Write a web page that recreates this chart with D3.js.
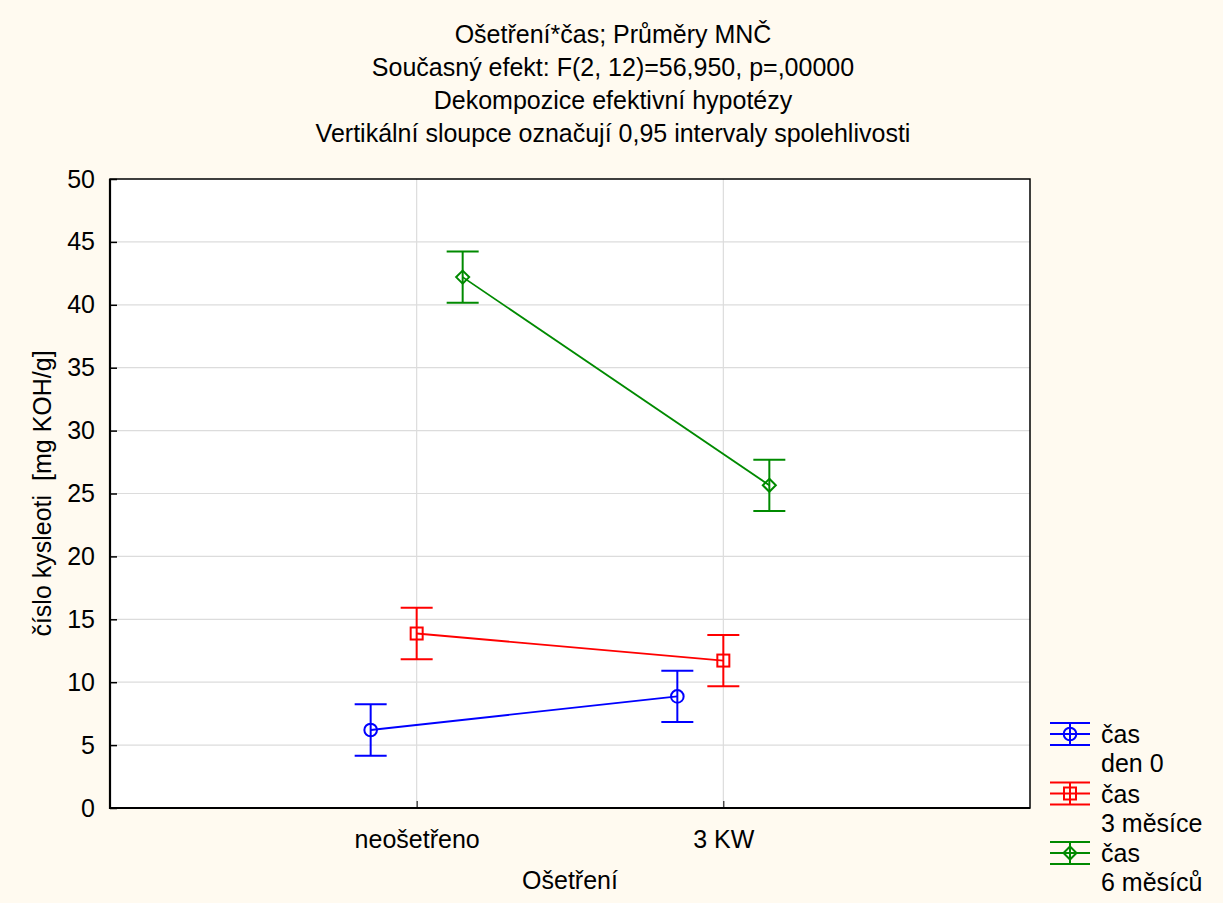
<!DOCTYPE html>
<html>
<head>
<meta charset="utf-8">
<script src="https://cdn.jsdelivr.net/npm/d3@7"></script>
<style>
  body { margin: 0; background: #fffaf0; }
  svg text { font-family: "Liberation Sans", Arial, sans-serif; fill: #000; }
</style>
</head>
<body>
<div id="chart"></div>
<script>
// values
var categories = ["neošetřeno", "3 KW"];
var seriesNames = [["čas", "den 0"], ["čas", "3 měsíce"], ["čas", "6 měsíců"]];
var seriesColors = ["#0000ff", "#ff0000", "#008a00"];
var seriesShapes = ["circle", "square", "diamond"];
var meansDen0 = [6.2, 8.87];
var means3m = [13.87, 11.72];
var means6m = [42.2, 25.65];
var ciHalf = [2.04, 2.04, 2.04];
var yTicks = [0, 5, 10, 15, 20, 25, 30, 35, 40, 45, 50];
var titleLines = [
  "Ošetření*čas; Průměry MNČ",
  "Současný efekt: F(2, 12)=56,950, p=,00000",
  "Dekompozice efektivní hypotézy",
  "Vertikální sloupce označují 0,95 intervaly spolehlivosti"
];

var allMeans = [meansDen0, means3m, means6m];

var W = 1223, H = 903;
var plot = {left: 110, right: 1030, top: 179, bottom: 808};
var fs = 25;

var svg = d3.select("#chart").append("svg")
    .attr("width", W)
    .attr("height", H);

svg.append("rect").attr("width", W).attr("height", H).attr("fill", "#fffaf0");

// scales
var x = d3.scaleLinear().domain([0, categories.length + 1]).range([plot.left, plot.right]);
var offset = d3.scalePoint().domain(d3.range(allMeans.length)).range([-46, 46]);
var y = d3.scaleLinear().domain([0, 50]).range([plot.bottom, plot.top]);

svg.append("rect")
    .attr("x", plot.left).attr("y", plot.top)
    .attr("width", plot.right - plot.left).attr("height", plot.bottom - plot.top)
    .attr("fill", "#fff");

// grid lines
svg.append("g").selectAll("line").data(yTicks.slice(1, -1)).enter().append("line")
    .attr("x1", plot.left).attr("x2", plot.right)
    .attr("y1", function (d) { return y(d); }).attr("y2", function (d) { return y(d); })
    .attr("stroke", "#dcdcdc").attr("stroke-width", 1.2);

svg.append("g").selectAll("line").data(categories).enter().append("line")
    .attr("x1", function (d, i) { return x(i + 1); }).attr("x2", function (d, i) { return x(i + 1); })
    .attr("y1", plot.top).attr("y2", plot.bottom)
    .attr("stroke", "#dcdcdc").attr("stroke-width", 1.2);

// y axis (ticks point inside the plot)
var yAxis = svg.append("g")
    .attr("transform", "translate(" + plot.left + ",0)")
    .call(d3.axisLeft(y).tickValues(yTicks).tickSize(-7).tickPadding(15));
yAxis.select(".domain").remove();
yAxis.selectAll("line").attr("stroke", "#000").attr("stroke-width", 1.5);
yAxis.selectAll("text").attr("font-size", fs).style("font-family", "Liberation Sans, Arial, sans-serif");

// x axis
var xAxis = svg.append("g")
    .attr("transform", "translate(0," + plot.bottom + ")")
    .call(d3.axisBottom(x).tickValues([1, 2]).tickSize(-7).tickPadding(22)
      .tickFormat(function (d) { return categories[d - 1]; }));
xAxis.select(".domain").remove();
xAxis.selectAll("line").attr("stroke", "#000").attr("stroke-width", 1);
xAxis.selectAll("text").attr("font-size", fs).style("font-family", "Liberation Sans, Arial, sans-serif");

// frame
svg.append("rect")
    .attr("x", plot.left).attr("y", plot.top)
    .attr("width", plot.right - plot.left).attr("height", plot.bottom - plot.top)
    .attr("fill", "none").attr("stroke", "#000").attr("stroke-width", 1.5);
svg.append("path")
    .attr("d", "M" + plot.left + "," + plot.top + "V" + plot.bottom + "H" + plot.right)
    .attr("fill", "none").attr("stroke", "#000").attr("stroke-width", 2.2);

function drawMarker(g, shape, cx, cy, color) {
  if (shape == "circle") {
    g.append("circle").attr("cx", cx).attr("cy", cy).attr("r", 6.3)
      .attr("fill", "none").attr("stroke", color).attr("stroke-width", 2);
  } else if (shape == "square") {
    g.append("rect").attr("x", cx - 6).attr("y", cy - 6).attr("width", 12).attr("height", 12)
      .attr("fill", "none").attr("stroke", color).attr("stroke-width", 2);
  } else {
    g.append("path").attr("d", "M" + cx + "," + (cy - 6.5) + "L" + (cx + 6.5) + "," + cy +
        "L" + cx + "," + (cy + 6.5) + "L" + (cx - 6.5) + "," + cy + "Z")
      .attr("fill", "none").attr("stroke", color).attr("stroke-width", 2);
  }
}

// series: connecting line, error bars, markers
allMeans.forEach(function (vals, s) {
  var color = seriesColors[s];
  var g = svg.append("g");
  var px = function (d, i) { return x(i + 1) + offset(s); };

  g.append("path")
    .datum(vals)
    .attr("d", d3.line().x(px).y(function (d) { return y(d); }))
    .attr("fill", "none").attr("stroke", color).attr("stroke-width", 1.8);

  vals.forEach(function (v, i) {
    var cx = px(v, i);
    var lo = y(v - ciHalf[s]), hi = y(v + ciHalf[s]);
    g.append("line").attr("x1", cx).attr("x2", cx).attr("y1", hi).attr("y2", lo)
      .attr("stroke", color).attr("stroke-width", 2);
    [lo, hi].forEach(function (yy) {
      g.append("line").attr("x1", cx - 16).attr("x2", cx + 16).attr("y1", yy).attr("y2", yy)
        .attr("stroke", color).attr("stroke-width", 2);
    });
    drawMarker(g, seriesShapes[s], cx, y(v), color);
  });
});

// titles
svg.append("g").selectAll("text").data(titleLines).enter().append("text")
    .attr("x", 613).attr("y", function (d, i) { return 43 + i * 33; })
    .attr("text-anchor", "middle").attr("font-size", fs)
    .text(function (d) { return d; });

svg.append("text")
    .attr("x", (plot.left + plot.right) / 2).attr("y", 889)
    .attr("text-anchor", "middle").attr("font-size", fs)
    .text("Ošetření");

svg.append("text")
    .attr("transform", "translate(51," + ((plot.top + plot.bottom) / 2) + ") rotate(-90)")
    .attr("text-anchor", "middle").attr("font-size", fs)
    .style("white-space", "pre")
    .text("číslo kysleoti  [mg KOH/g]");

// legend
var legend = svg.append("g");
seriesNames.forEach(function (name, s) {
  var cy = 734 + s * 59.5;
  var color = seriesColors[s];
  [-11, 0, 11].forEach(function (dy) {
    legend.append("line").attr("x1", 1050).attr("x2", 1090).attr("y1", cy + dy).attr("y2", cy + dy)
      .attr("stroke", color).attr("stroke-width", 2);
  });
  legend.append("line").attr("x1", 1070).attr("x2", 1070).attr("y1", cy - 11).attr("y2", cy + 11)
    .attr("stroke", color).attr("stroke-width", 2);
  drawMarker(legend, seriesShapes[s], 1070, cy, color);
  name.forEach(function (line, k) {
    legend.append("text").attr("x", 1101).attr("y", cy + 9 + k * 29)
      .attr("font-size", fs).text(line);
  });
});
</script>
</body>
</html>
